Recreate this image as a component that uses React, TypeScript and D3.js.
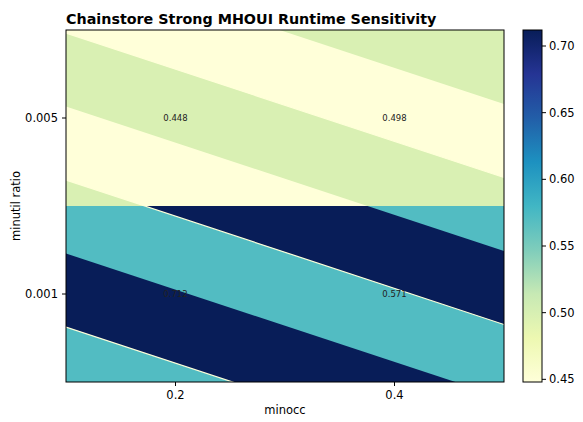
import React from 'react';
import * as d3 from 'd3';

// Sweep axes and measured runtime values
const minoccValues = [0.2, 0.4];
const minutilRatios = ['0.005', '0.001'];
const runtimeGrid = [
  [0.448, 0.498],
  [0.712, 0.571],
];
const colorbarTicks = [0.45, 0.5, 0.55, 0.6, 0.65, 0.7];

const W = 583;
const H = 422;
const plot = { left: 66, top: 30, right: 504, bottom: 382 };
const cbar = { left: 523, right: 542 };
const FONT = 'DejaVu Sans, sans-serif';

// YlGnBu anchor colours (linear segments)
const ylgnbu = ['#ffffd9', '#edf8b1', '#c7e9b4', '#7fcdbb', '#41b6c4', '#1d91c0', '#225ea8', '#253494', '#081d58'];

// Diagonal banding of the rendered cells
const band = { slope: 0.33, half: 73.5, offset: 3 };

export default function App() {
  const flat = runtimeGrid.flat();
  const vmin = d3.min(flat) as number;
  const vmax = d3.max(flat) as number;

  const color = d3
    .scaleLinear<string>()
    .domain(ylgnbu.map((_, i) => vmin + ((vmax - vmin) * i) / (ylgnbu.length - 1)))
    .range(ylgnbu)
    .interpolate(d3.interpolateRgb);

  const step = minoccValues[1] - minoccValues[0];
  const x = d3
    .scaleLinear()
    .domain([d3.min(minoccValues)! - step / 2, d3.max(minoccValues)! + step / 2])
    .range([plot.left, plot.right]);
  const y = d3.scaleBand<string>().domain(minutilRatios).range([plot.top, plot.bottom]).padding(0);
  const cy = d3.scaleLinear().domain([vmin, vmax]).range([plot.bottom, plot.top]);

  const pw = plot.right - plot.left;
  const boundary = (k: number) => plot.top + band.offset + band.half * k;
  const ks = d3.range(-3, 8);

  const bandPath = (k: number) => {
    const a = boundary(k);
    const b = boundary(k + 1);
    const rise = band.slope * pw;
    return `M${plot.left},${a}L${plot.right},${a + rise}L${plot.right},${b + rise}L${plot.left},${b}Z`;
  };

  const fmtX = d3.format('.1f');
  const fmtC = d3.format('.2f');
  const fmtV = d3.format('.3f');

  return (
    <svg width={W} height={H} style={{ position: 'absolute', left: 0, top: 0, background: '#fff' }}>
      <defs>
        {minutilRatios.map((r, i) => (
          <clipPath id={`row-${i}`} key={r}>
            <rect x={plot.left} y={y(r)} width={pw} height={y.bandwidth()} />
          </clipPath>
        ))}
        <linearGradient id="cbar-grad" x1="0" y1="1" x2="0" y2="0">
          {ylgnbu.map((c, i) => (
            <stop key={i} offset={i / (ylgnbu.length - 1)} stopColor={c} />
          ))}
        </linearGradient>
      </defs>

      <text x={plot.left} y={24} fontFamily={FONT} fontWeight="bold" fontSize={14.3} fill="#000">
        Chainstore Strong MHOUI Runtime Sensitivity
      </text>

      {/* cells: rows alternate between the two column values in diagonal bands */}
      {minutilRatios.map((r, i) => {
        const leftVal = runtimeGrid[i][0];
        const rightVal = runtimeGrid[i][1];
        return (
          <g key={r} clipPath={`url(#row-${i})`}>
            <rect x={plot.left} y={y(r)} width={pw} height={y.bandwidth()} fill={color(rightVal)} />
            {ks
              .filter((k) => Math.abs(k % 2) === 1)
              .map((k) => (
                <path key={k} d={bandPath(k)} fill={color(leftVal)} />
              ))}
            {ks
              .filter((k) => Math.abs(k % 2) === 0)
              .map((k) => (
                <line
                  key={`l${k}`}
                  x1={plot.left}
                  y1={boundary(k)}
                  x2={plot.right}
                  y2={boundary(k) + band.slope * pw}
                  stroke={color(vmin)}
                  strokeWidth={1.2}
                />
              ))}
          </g>
        );
      })}

      {/* value annotations */}
      {minutilRatios.map((r, i) =>
        minoccValues.map((m, j) => (
          <text
            key={`${r}-${m}`}
            x={x(m)}
            y={(y(r) as number) + y.bandwidth() / 2}
            dy="0.35em"
            textAnchor="middle"
            fontFamily={FONT}
            fontSize={8.5}
            fill="#222"
          >
            {fmtV(runtimeGrid[i][j])}
          </text>
        ))
      )}

      <rect x={plot.left} y={plot.top} width={pw} height={plot.bottom - plot.top} fill="none" stroke="#000" strokeWidth={1} />

      {/* x axis */}
      {minoccValues.map((m) => (
        <g key={m}>
          <line x1={x(m)} x2={x(m)} y1={plot.bottom} y2={plot.bottom + 4} stroke="#000" strokeWidth={1} />
          <text x={x(m)} y={plot.bottom + 16.5} textAnchor="middle" fontFamily={FONT} fontSize={11.5} fill="#000">
            {fmtX(m)}
          </text>
        </g>
      ))}
      <text x={(plot.left + plot.right) / 2} y={414} textAnchor="middle" fontFamily={FONT} fontSize={11.5} fill="#000">
        minocc
      </text>

      {/* y axis */}
      {minutilRatios.map((r) => {
        const yc = (y(r) as number) + y.bandwidth() / 2;
        return (
          <g key={r}>
            <line x1={plot.left - 4} x2={plot.left} y1={yc} y2={yc} stroke="#000" strokeWidth={1} />
            <text x={plot.left - 8} y={yc} dy="0.35em" textAnchor="end" fontFamily={FONT} fontSize={11.5} fill="#000">
              {r}
            </text>
          </g>
        );
      })}
      <text
        transform={`translate(20,${(plot.top + plot.bottom) / 2}) rotate(-90)`}
        textAnchor="middle"
        fontFamily={FONT}
        fontSize={11.5}
        fill="#000"
      >
        minutil ratio
      </text>

      {/* colorbar */}
      <rect
        x={cbar.left}
        y={plot.top}
        width={cbar.right - cbar.left}
        height={plot.bottom - plot.top}
        fill="url(#cbar-grad)"
        stroke="#000"
        strokeWidth={1}
      />
      {colorbarTicks.map((t) => (
        <g key={t}>
          <line x1={cbar.right} x2={cbar.right + 4} y1={cy(t)} y2={cy(t)} stroke="#000" strokeWidth={1} />
          <text x={cbar.right + 7} y={cy(t)} dy="0.35em" fontFamily={FONT} fontSize={11.5} fill="#000">
            {fmtC(t)}
          </text>
        </g>
      ))}
    </svg>
  );
}
